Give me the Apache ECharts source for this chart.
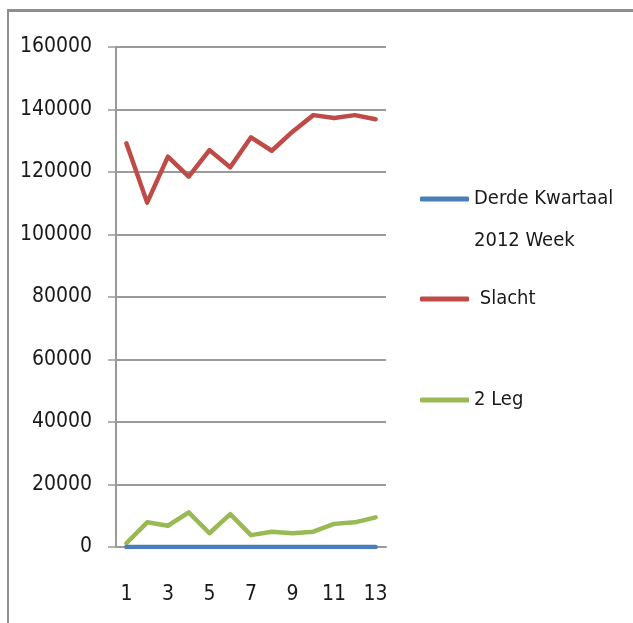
<!DOCTYPE html>
<html>
<head>
<meta charset="utf-8">
<script src="https://cdn.jsdelivr.net/npm/echarts@6/dist/echarts.min.js"></script>
<style>
  html, body { margin: 0; padding: 0; background: #fff; }
  #chart { position: absolute; left: 0; top: 0; width: 633px; height: 623px; }
  /* outer frame, only top and left edges are visible */
  .frame {
    position: absolute; left: 7px; top: 9px; width: 700px; height: 700px;
    border-top: 3px solid #8e8e8e; border-left: 2px solid #8e8e8e;
    pointer-events: none;
  }
</style>
</head>
<body>
<div id="chart"></div>
<div class="frame"></div>
<script>
const weeks = ['1', '2', '3', '4', '5', '6', '7', '8', '9', '10', '11', '12', '13']
const derdeKwartaal = [0, 0, 0, 0, 0, 0, 0, 0, 0, 0, 0, 0, 0]
const slacht = [129200, 110200, 124900, 118500, 127000, 121500, 131100, 126800, 132900, 138200, 137300, 138200, 136900]
const tweeLeg = [1200, 7900, 6800, 11100, 4400, 10500, 3800, 4900, 4400, 4900, 7400, 7900, 9500]
const seriesNames = ['Derde Kwartaal\n2012 Week', ' Slacht', '2 Leg']
const colors = ['#4a7ebb', '#be4b48', '#98b954']

const font = "'DejaVu Sans Condensed', 'Liberation Sans Narrow', sans-serif"
const chart = echarts.init(document.getElementById('chart'))

// 每个图例单独放置，位置和原图一致
function legendAt (name, top) {
  return {
    data: [name],
    left: 420,
    top: top,
    padding: 0,
    orient: 'vertical',
    icon: 'roundRect',
    itemWidth: 49,
    itemHeight: 5,
    itemGap: 0,
    selectedMode: false,
    // 两行的图例：前面加一个空行，让图标对齐第一行
    formatter: function (n) {
      return n.indexOf('\n') >= 0 ? ' \n' + n : n
    },
    textStyle: {
      fontFamily: font,
      fontSize: 20,
      lineHeight: 42,
      color: '#1a1a1a'
    }
  }
}

function lineSeries (i, data) {
  return {
    name: seriesNames[i],
    type: 'line',
    data: data,
    symbol: 'none',
    color: colors[i],
    lineStyle: { width: 4.5, color: colors[i], cap: 'round', join: 'round' }
  }
}

chart.setOption({
  animation: false,
  backgroundColor: '#fff',
  legend: [
    legendAt(seriesNames[0], 136),
    legendAt(seriesNames[1], 278),
    legendAt(seriesNames[2], 379)
  ],
  grid: { left: 116, right: 247, top: 47, bottom: 76 },
  xAxis: {
    type: 'category',
    data: weeks,
    boundaryGap: true,
    axisLine: { lineStyle: { color: '#9a9a9a', width: 2 } },
    axisTick: { length: 9, lineStyle: { color: '#9a9a9a', width: 1.5 } },
    axisLabel: { interval: 1, margin: 37, fontFamily: font, fontSize: 21, color: '#1a1a1a' }
  },
  yAxis: {
    type: 'value',
    min: 0,
    max: 160000,
    interval: 20000,
    axisLine: { show: true, lineStyle: { color: '#9a9a9a', width: 2 } },
    axisTick: { show: true, length: 8, lineStyle: { color: '#9a9a9a', width: 1.5 } },
    splitLine: { lineStyle: { color: '#9a9a9a', width: 2 } },
    axisLabel: {
      margin: 24,
      fontFamily: font,
      fontSize: 21,
      color: '#1a1a1a',
      formatter: function (v) { return String(v) }
    }
  },
  series: [
    lineSeries(1, slacht),
    lineSeries(2, tweeLeg),
    lineSeries(0, derdeKwartaal)
  ]
})
</script>
</body>
</html>
